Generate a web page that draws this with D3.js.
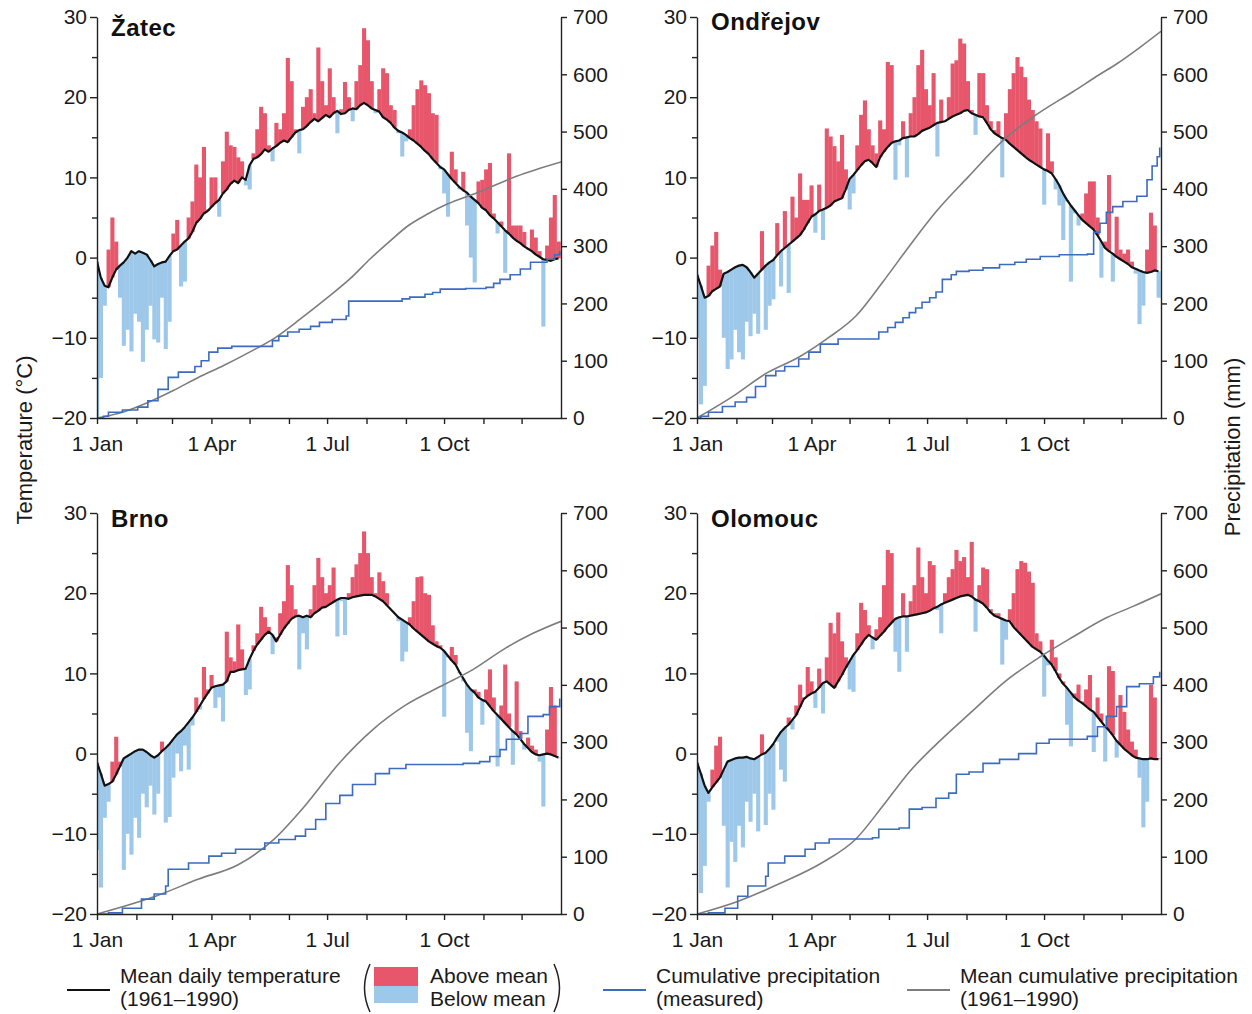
<!DOCTYPE html>
<html>
<head>
<meta charset="utf-8">
<script src="https://cdn.jsdelivr.net/npm/d3@7"></script>
<style>
  body { margin: 0; background: #fff; }
</style>
</head>
<body>
<script>
// ---- data -------------------------------------------------------------
const stations = ["Žatec", "Ondřejov", "Brno", "Olomouc"];
const sampleStep = 3; // one value every 3 days, starting 1 Jan
const tempTicks = [-20, -15, -10, -5, 0, 5, 10, 15, 20, 25, 30];
const precipTicks = [0, 100, 200, 300, 400, 500, 600, 700];
const monthStarts = [0, 31, 59, 90, 120, 151, 181, 212, 243, 273, 304, 334];
const monthLabels = ["1 Jan", "", "", "1 Apr", "", "", "1 Jul", "", "", "1 Oct", "", ""];

// mean daily temperature 1961-1990 (°C)
const zatecMean = [
  -0.5,-2.5,-3.5,-3.7,-2.5,-1.5,-1.0,-0.6,0.0,0.8,
  0.5,0.8,0.6,0.4,-0.3,-1.1,-0.8,-0.6,-0.5,0.2,
  0.8,1.0,1.5,2.0,2.4,3.2,4.3,4.8,5.5,5.8,
  6.3,6.8,7.2,8.0,8.5,9.2,9.6,9.3,10.0,9.7,
  11.5,12.3,12.5,12.9,13.5,13.2,13.6,13.9,14.3,14.6,
  14.4,15.0,15.6,15.9,16.0,16.4,16.9,17.3,17.0,17.4,
  17.8,17.5,18.0,18.3,17.9,18.0,18.4,18.6,18.5,19.0,
  19.3,19.0,18.6,18.4,18.2,17.5,17.2,16.8,16.2,15.8,
  15.6,15.3,14.9,14.6,14.2,13.8,13.3,12.9,12.3,11.8,
  11.3,11.0,10.4,9.8,9.3,8.8,8.4,8.1,7.6,7.2,
  6.8,6.2,5.9,5.3,4.9,4.4,3.9,3.4,3.0,2.5,
  2.1,1.8,1.4,1.1,0.8,0.4,0.1,-0.2,-0.3,-0.4,
  -0.2,-0.1
];
// measured daily temperature (°C)
const zatecActual = [
  -20,-15,-6,1,5,2,-5,-11,-9,-11.7,
  -7,-8,-13,-9,-6,-10.2,-10.6,-5,-11.4,-8,
  3,4.7,-3.6,-3,5,7,11.6,10,13.8,6,
  10,10,5.1,12,15.7,14,13.8,12.5,12,9,
  8.5,13,16,18.8,18,14,12,16.8,16,18,
  24.9,22,16,13,18.8,20,21,18,26.2,22,
  19,23.6,20,15.5,18.5,21.9,20,17,22,24,
  28.6,27.1,22,18,21,23.6,23,19,18.4,15.5,
  12.6,14.5,16,19,21,22.1,21.5,20.5,18,17.8,
  11,8,5.1,13.2,11,8.5,10.7,4,0,-3.1,
  9.5,9.7,11,11.8,5.5,3,4.5,-1.9,13,4,
  4,4,3.2,1,3.5,2.5,0.8,-8.6,1.5,5,
  7.8,2
];
// cumulative precipitation [day, mm]
const zatecPrecip = [
  [0,0],[5,3],[9,10],[20,14],[32,19],[40,30],[48,50],[56,71],[64,80],[77,90],
  [82,100],[88,115],[95,122],[106,125],[138,135],[143,143],[150,150],[159,155],[168,160],[175,167],
  [185,172],[196,178],[198,204],[240,208],[246,211],[258,216],[264,219],[270,225],[290,226],[306,228],
  [312,235],[317,242],[325,250],[333,260],[341,272],[354,277],[360,285],[364,291]
];
const zatecPrecipMean = [
  [0,0],[20,10],[40,27],[60,48],[80,71],[100,92],[120,115],[140,140],[160,173],[180,208],
  [200,245],[215,278],[230,308],[245,336],[260,356],[275,373],[300,394],[330,422],[365,447]
];

const ondrejovMean = [
  -2.1,-3.5,-5.0,-4.8,-4.2,-3.9,-3.6,-2.0,-1.8,-1.5,
  -1.2,-1.0,-0.9,-1.2,-1.8,-2.5,-2.0,-1.5,-1.0,-0.6,
  -0.3,0.3,0.8,1.2,1.6,2.0,2.4,2.8,3.5,4.3,
  5.1,5.4,5.8,6.0,6.2,6.5,7.0,7.2,7.4,8.5,
  9.8,10.3,10.9,11.5,12.0,12.2,11.8,11.3,12.5,13.2,
  13.8,14.3,14.5,14.6,14.9,15.0,15.1,15.1,15.4,15.8,
  16.0,16.2,16.5,16.8,16.9,17.0,17.3,17.6,17.8,18.0,
  18.3,18.4,18.0,17.8,17.6,17.5,16.8,16.0,15.5,15.2,
  14.9,14.7,14.2,13.8,13.4,13.0,12.6,12.2,11.9,11.6,
  11.3,11.0,10.8,10.5,9.8,9.0,8.0,7.2,6.5,5.9,
  5.3,4.7,4.3,3.9,3.5,2.8,2.0,1.2,0.8,0.5,
  0.1,-0.2,-0.5,-0.8,-1.2,-1.4,-1.6,-1.8,-1.9,-1.8,
  -1.6,-1.7
];
const ondrejovActual = [
  -10,-18.3,-16,-1,1.5,3.2,-1.5,-10,-13.9,-12.7,
  -9,-11.8,-12.7,-8,-9.8,-7,-9.5,3.3,-9,-6,
  -5.2,4.3,-3.6,5.8,-4.4,7.6,5,10.5,7.2,7.2,
  9,3.1,9.1,2.2,16.1,15.1,13.9,12,15.3,11,
  6,8,14,17.8,19.6,16,14,13,17.1,16,
  24.4,24,9.7,14,17,10,18,20,24,25.9,
  21,19,23,12.6,19.7,17,20,24.2,24.6,27.3,
  26.7,22,18.4,15.3,23,23,19,17,15.9,17,
  10,18,21,23,25,23.8,22.5,19.7,18.4,17,
  16.1,6.6,15.5,12,8.5,6.5,2.2,7,-3,5.5,
  4,5.5,8,9.5,9.5,5,-2.5,2,10.3,-3,
  5.1,1,0.5,1,-0.5,-2,-8.3,-6,1,5.6,
  4,-5
];
const ondrejovPrecip = [
  [0,0],[3,3],[9,10],[20,20],[30,28],[39,36],[46,55],[54,74],[62,82],[69,90],
  [80,103],[88,115],[97,129],[111,138],[143,150],[150,158],[156,167],[162,175],[167,184],[172,192],
  [177,202],[183,210],[188,220],[193,242],[200,250],[204,256],[214,258],[225,262],[238,268],[250,272],
  [259,277],[270,282],[285,285],[307,286],[312,324],[317,340],[322,359],[327,369],[335,378],[346,387],
  [354,416],[358,440],[362,456],[364,472]
];
const ondrejovPrecipMean = [
  [0,0],[27,36],[56,80],[80,106],[104,141],[125,178],[146,237],[167,300],[188,360],[213,420],
  [243,489],[264,525],[296,570],[317,600],[330,618],[349,648],[365,675]
];

const brnoMean = [
  -1.1,-2.5,-4.0,-3.8,-3.5,-2.6,-1.6,-0.6,-0.3,0.0,
  0.3,0.5,0.5,0.2,-0.2,-0.5,-0.2,0.3,0.7,1.2,
  1.8,2.4,2.8,3.3,3.9,4.5,5.2,6.0,6.8,7.5,
  8.2,8.4,8.5,8.6,9.0,10.2,10.2,10.4,10.5,10.6,
  11.8,12.8,13.6,14.2,14.8,15.2,14.8,14.0,14.8,15.6,
  16.2,16.8,17.1,17.2,17.0,17.2,17.0,17.5,17.8,18.2,
  18.3,18.6,18.9,19.2,19.4,19.4,19.3,19.5,19.6,19.7,
  19.8,19.8,19.8,19.6,19.3,19.0,18.5,18.0,17.5,17.0,
  16.7,16.4,16.1,15.6,15.2,14.8,14.4,14.0,13.7,13.4,
  13.2,12.8,12.2,11.6,11.1,10.2,9.4,8.6,8.0,7.6,
  7.0,6.7,6.5,5.9,5.3,4.8,4.3,3.8,3.3,2.8,
  2.4,1.8,1.2,0.7,0.2,-0.1,-0.2,-0.1,0.0,-0.1,
  -0.3,-0.5
];
const brnoActual = [
  -12,-16.7,-8,-6,-1,2.1,-1,-14.5,-10,-12.6,
  -8,-10.5,-5,-6.7,-4,-7.6,-5,1.5,-8.6,-7.9,
  -3,0,-2.2,1,-2,3.5,7,5.5,10.8,8,
  9.8,5.7,7,4,15.2,12,11.5,16.1,13,7.3,
  8,13.5,15,18.3,17,15.8,12.4,14.5,17.5,19,
  23.5,21,18,10.5,15,13,18,21,24.4,22,
  20,21,23.2,14.6,19,14.8,20,22,23.6,25,
  27.7,25,22,20,22.6,21.5,20,18,17.5,16.5,
  11.5,12.7,17,19,22,22.1,20,19.8,16,14,
  13.5,4.6,12,13.3,12.3,10,9,2.6,0.3,8,
  7.7,3.6,8,10.5,7,-1.6,6,11.1,5,-1.4,
  9,2.8,0.5,2,1,0.5,-1,-6.6,3,8.3,
  6,-0.6
];
const brnoPrecip = [
  [0,0],[9,2],[20,10],[35,26],[45,35],[54,49],[56,78],[72,89],[88,101],[98,106],
  [109,113],[132,124],[143,130],[156,136],[164,148],[172,165],[180,193],[191,207],[201,226],[219,245],
  [230,254],[243,261],[288,263],[301,266],[309,275],[317,287],[322,305],[333,315],[339,345],[351,348],
  [356,362],[364,376]
];
const brnoPrecipMean = [
  [0,0],[46,31],[80,61],[111,86],[138,128],[164,190],[190,262],[217,322],[243,365],[270,397],
  [296,427],[322,465],[343,490],[365,511]
];

const olomoucMean = [
  -1.1,-2.5,-4.0,-4.9,-4.2,-3.6,-3.0,-2.0,-1.0,-0.8,
  -0.6,-0.5,-0.5,-0.4,-0.6,-0.7,-0.4,-0.1,0.1,0.6,
  1.2,2.0,2.7,3.2,3.6,4.2,4.8,5.8,6.8,7.2,
  7.5,7.7,8.2,8.8,9.0,8.6,8.2,9.0,9.8,10.7,
  11.5,12.3,12.9,13.6,14.3,14.8,14.5,14.2,14.7,15.2,
  15.8,16.3,16.8,17.0,17.1,17.1,17.2,17.3,17.4,17.5,
  17.6,17.8,18.1,18.3,18.6,18.8,19.0,19.2,19.4,19.6,
  19.7,19.8,19.6,19.2,19.0,18.7,18.2,17.6,17.2,17.0,
  16.8,16.6,16.5,15.8,15.3,14.8,14.3,13.8,13.3,13.0,
  12.7,12.2,11.6,11.1,10.3,9.4,8.7,8.2,7.6,7.0,
  6.6,6.3,5.9,5.5,5.2,4.6,4.0,3.4,2.9,2.3,
  1.6,1.1,0.6,0.2,-0.2,-0.5,-0.6,-0.7,-0.7,-0.6,
  -0.7,-0.7
];
const olomoucActual = [
  -10,-17.4,-14,-6,-2,1,2.1,-9,-16.7,-11,
  -13.5,-9,-11.7,-6,-8.5,-5,-9.7,2.4,-8.9,-5,
  -7,1.5,-2,-3.5,4.5,3,6,8.6,7,10.8,
  9,5.7,10.6,5,12,16.3,15,17.6,14,12,
  8,7.7,15,18.8,17.9,16,13,15.5,17,21,
  25.4,25,12.7,10.2,20,12.7,19,21,25.7,22,
  20,24,23.5,17.9,15,20,22,23,25.4,24,
  24.5,22,26.4,15.2,21,23.2,23,18,17.5,17.5,
  11.1,14.2,18,20,23,24,23.8,22.7,21.3,15,
  14,7.1,11,14.2,12,10,9,3.6,0.9,7.5,
  8.6,6.5,8,9.8,0.2,7,5,-1,10.9,10.3,
  -0.5,7.3,5.2,3,1.5,0.5,-3,-9.2,-6,8.6,
  7,-0.6
];
const olomoucPrecip = [
  [0,0],[9,2],[22,10],[32,31],[40,49],[54,66],[56,89],[69,101],[85,113],[93,124],
  [104,131],[138,133],[143,148],[159,150],[167,183],[177,186],[188,202],[198,211],[204,244],[214,248],
  [225,263],[238,270],[253,280],[267,298],[277,305],[301,305],[307,310],[315,327],[322,345],[330,362],
  [338,397],[348,402],[359,414],[364,423]
];
const olomoucPrecipMean = [
  [0,0],[32,22],[66,54],[98,89],[125,131],[146,188],[167,248],[190,300],[217,355],[243,407],
  [270,449],[296,484],[322,517],[343,537],[365,559]
];

const legendItems = [
  {kind: "line", color: "#111", lines: ["Mean daily temperature", "(1961–1990)"]},
  {kind: "bars", lines: ["Above mean", "Below mean"]},
  {kind: "line", color: "#3b6cc0", lines: ["Cumulative precipitation", "(measured)"]},
  {kind: "line", color: "#7d7d7d", lines: ["Mean cumulative precipitation", "(1961–1990)"]}
];

// ---- drawing ----------------------------------------------------------
const RED = "#e7566b", BLUE = "#9ec8ea", BLACK = "#111", PRCP = "#3b6cc0", GRAY = "#7d7d7d";
const AXIS = "#222";
const FONT = '"Liberation Sans", Arial, Helvetica, sans-serif';

const panels = [
  {mean: zatecMean, actual: zatecActual, precip: zatecPrecip, precipMean: zatecPrecipMean},
  {mean: ondrejovMean, actual: ondrejovActual, precip: ondrejovPrecip, precipMean: ondrejovPrecipMean},
  {mean: brnoMean, actual: brnoActual, precip: brnoPrecip, precipMean: brnoPrecipMean},
  {mean: olomoucMean, actual: olomoucActual, precip: olomoucPrecip, precipMean: olomoucPrecipMean}
];
const layout = [
  {x: 97, y: 17, titleDy: 19},
  {x: 697, y: 17, titleDy: 13},
  {x: 97, y: 513, titleDy: 14},
  {x: 697, y: 513, titleDy: 14}
];
const PW = 464, PH = 401;

const svg = d3.select("body").append("svg")
  .attr("width", 1252)
  .attr("height", 1014)
  .style("font-family", FONT);

function styleAxis(sel) {
  sel.attr("font-family", FONT).attr("font-size", 21);
  sel.select(".domain").attr("stroke", AXIS).attr("stroke-width", 1.4);
  sel.selectAll(".tick line").attr("stroke", AXIS).attr("stroke-width", 1.4);
  sel.selectAll(".tick text").attr("fill", "#1a1a1a");
}

panels.forEach((p, k) => {
  const L = layout[k];
  const g = svg.append("g").attr("transform", `translate(${L.x},${L.y})`);

  const x = d3.scaleLinear().domain([0, 365]).range([0, PW]);
  const yT = d3.scaleLinear().domain([-20, 30]).range([PH, 0]);
  const yP = d3.scaleLinear().domain([0, 700]).range([PH, 0]);

  const clipId = "clip" + k;
  g.append("clipPath").attr("id", clipId)
    .append("rect").attr("width", PW).attr("height", PH);
  const plot = g.append("g").attr("clip-path", `url(#${clipId})`);

  const rows = p.actual.map((v, i) => ({day: i * sampleStep, mean: p.mean[i], actual: v}));

  // deviation bars from the long-term mean
  plot.selectAll("rect.dev")
    .data(rows)
    .join("rect")
    .attr("class", "dev")
    .attr("x", d => x(d.day - sampleStep / 2))
    .attr("width", x(sampleStep) - x(0) + 0.3)
    .attr("y", d => yT(Math.max(d.mean, d.actual)))
    .attr("height", d => Math.abs(yT(d.actual) - yT(d.mean)))
    .attr("fill", d => d.actual >= d.mean ? RED : BLUE);

  // mean daily temperature
  plot.append("path")
    .datum(rows)
    .attr("fill", "none")
    .attr("stroke", BLACK)
    .attr("stroke-width", 2.2)
    .attr("stroke-linejoin", "round")
    .attr("d", d3.line().x(d => x(d.day)).y(d => yT(d.mean)));

  // mean cumulative precipitation
  plot.append("path")
    .datum(p.precipMean)
    .attr("fill", "none")
    .attr("stroke", GRAY)
    .attr("stroke-width", 1.6)
    .attr("d", d3.line().x(d => x(d[0])).y(d => yP(d[1])).curve(d3.curveMonotoneX));

  // measured cumulative precipitation
  plot.append("path")
    .datum(p.precip)
    .attr("fill", "none")
    .attr("stroke", PRCP)
    .attr("stroke-width", 1.6)
    .attr("d", d3.line().x(d => x(d[0])).y(d => yP(d[1])).curve(d3.curveStepAfter));

  // axes
  const left = g.append("g")
    .call(d3.axisLeft(yT)
      .tickValues(tempTicks)
      .tickSize(7)
      .tickSizeOuter(0)
      .tickPadding(3)
      .tickFormat(d => d % 10 === 0 ? d3.format("d")(d) : ""));
  styleAxis(left);
  left.selectAll(".tick").filter(d => d % 10 !== 0).select("line").attr("x2", -5);

  const bottom = g.append("g")
    .attr("transform", `translate(0,${PH})`)
    .call(d3.axisBottom(x)
      .tickValues(monthStarts)
      .tickSize(6)
      .tickSizeOuter(0)
      .tickPadding(12)
      .tickFormat((d, i) => monthLabels[i]));
  styleAxis(bottom);

  const right = g.append("g")
    .attr("transform", `translate(${PW},0)`)
    .call(d3.axisRight(yP)
      .tickValues(precipTicks)
      .tickSize(6)
      .tickSizeOuter(0)
      .tickPadding(6));
  styleAxis(right);

  // station name
  g.append("text")
    .attr("x", 14)
    .attr("y", L.titleDy)
    .attr("font-size", 24)
    .attr("font-weight", "bold")
    .attr("letter-spacing", 0.5)
    .attr("fill", "#111")
    .text(stations[k]);
});

// axis titles
svg.append("text")
  .attr("transform", "translate(32,440) rotate(-90)")
  .attr("text-anchor", "middle")
  .attr("font-size", 22)
  .attr("fill", "#1a1a1a")
  .text("Temperature (°C)");

svg.append("text")
  .attr("transform", "translate(1240,447) rotate(-90)")
  .attr("text-anchor", "middle")
  .attr("font-size", 22)
  .attr("fill", "#1a1a1a")
  .text("Precipitation (mm)");

// legend
const legendX = [67, 374, 603, 907];
const legend = svg.append("g").attr("font-size", 21).attr("fill", "#1a1a1a");
legendItems.forEach((item, i) => {
  const lx = legendX[i];
  const gi = legend.append("g").attr("transform", `translate(${lx},0)`);
  let textX;
  if (item.kind === "line") {
    gi.append("line")
      .attr("x1", 0).attr("x2", 43)
      .attr("y1", 990).attr("y2", 990)
      .attr("stroke", item.color).attr("stroke-width", 2);
    textX = 53;
  } else {
    gi.append("rect").attr("x", 0).attr("y", 967).attr("width", 44).attr("height", 19).attr("fill", RED);
    gi.append("rect").attr("x", 0).attr("y", 986).attr("width", 44).attr("height", 17).attr("fill", BLUE);
    // thin brackets around the two swatches
    const open = d3.path();
    open.moveTo(-4, 964);
    open.quadraticCurveTo(-15, 988, -4, 1012);
    const close = d3.path();
    close.moveTo(180, 964);
    close.quadraticCurveTo(191, 988, 180, 1012);
    [open, close].forEach(pth => gi.append("path")
      .attr("d", pth.toString())
      .attr("fill", "none")
      .attr("stroke", "#222")
      .attr("stroke-width", 1.5));
    textX = 56;
  }
  item.lines.forEach((t, j) => {
    gi.append("text")
      .attr("x", textX)
      .attr("y", 983 + j * 23)
      .text(t);
  });
});
</script>
</body>
</html>
